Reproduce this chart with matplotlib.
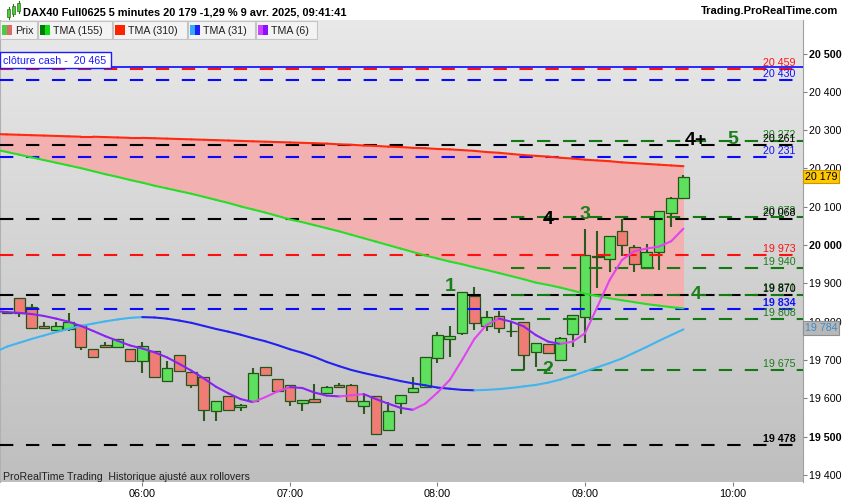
import numpy as np
import matplotlib.pyplot as plt
import matplotlib.transforms as mtransforms
from matplotlib.collections import LineCollection
from matplotlib.colors import LinearSegmentedColormap
from matplotlib.patches import Rectangle

plt.rcParams['font.family'] = ['Liberation Sans', 'DejaVu Sans']
plt.rcParams['lines.scale_dashes'] = False

# --- data -------------------------------------------------------------
# candle index: 0 = 06:00, one step = 5 minutes (first candle 05:05, last 09:40)
candle_idx = list(range(-11, 45))
opens = [19823, 19861, 19839, 19788, 19779, 19780, 19792, 19728, 19739, 19734, 19728,
         19697, 19724, 19644, 19714, 19668, 19655, 19566, 19607, 19577, 19592, 19681,
         19650, 19635, 19588, 19598, 19615, 19635, 19635, 19581, 19606, 19517, 19588,
         19616, 19629, 19704, 19756, 19770, 19866, 19790, 19816, 19776, 19798, 19721,
         19741, 19699, 19767, 19813, 19970, 19963, 20036, 19996, 19941, 19981, 20083, 20122]
highs = [19827, 19862, 19846, 19799, 19799, 19822, 19792, 19728, 19746, 19754, 19728,
         19748, 19724, 19698, 19714, 19668, 19655, 19594, 19607, 19586, 19679, 19681,
         19650, 19635, 19596, 19637, 19632, 19640, 19638, 19609, 19606, 19591, 19609,
         19656, 19708, 19772, 19789, 19877, 19890, 19827, 19829, 19798, 19798, 19744,
         19741, 19761, 19817, 20043, 20036, 20023, 20067, 20000, 20004, 20088, 20126, 20182]
lows = [19820, 19812, 19783, 19783, 19779, 19776, 19727, 19708, 19734, 19734, 19698,
        19667, 19655, 19644, 19670, 19628, 19542, 19542, 19569, 19566, 19592, 19660,
        19618, 19581, 19566, 19590, 19615, 19630, 19592, 19560, 19503, 19517, 19559,
        19616, 19626, 19691, 19709, 19764, 19779, 19776, 19770, 19761, 19674, 19683,
        19718, 19699, 19734, 19744, 19887, 19930, 19971, 19930, 19941, 19935, 20046, 20122]
closes = [19826, 19822, 19783, 19783, 19790, 19800, 19735, 19708, 19734, 19754, 19698,
          19737, 19655, 19679, 19670, 19634, 19569, 19594, 19569, 19583, 19666, 19660,
          19618, 19592, 19596, 19590, 19630, 19630, 19592, 19594, 19507, 19567, 19609,
          19627, 19708, 19765, 19762, 19877, 19796, 19812, 19783, 19777, 19713, 19744,
          19718, 19757, 19817, 19973, 19971, 20023, 19999, 19950, 19983, 20088, 20122, 20179]

# moving averages, one value per 5-minute step from 05:00 to 09:40
ma_idx = list(range(-12, 45))
tma155 = [20250, 20243, 20236, 20229, 20222, 20215, 20208, 20201, 20193, 20185, 20178, 20170,
          20163, 20155, 20148, 20141, 20134, 20126, 20118, 20110, 20101, 20093, 20085, 20076,
          20067, 20060, 20052, 20044, 20036, 20027, 20018, 20009, 20000, 19991, 19982, 19973,
          19965, 19957, 19950, 19942, 19935, 19927, 19919, 19911, 19902, 19896, 19889, 19881,
          19873, 19867, 19861, 19856, 19851, 19846, 19842, 19838, 19835]
tma310 = [20290, 20289, 20288, 20287, 20286, 20285, 20284, 20283, 20283, 20282, 20281, 20280,
          20280, 20279, 20278, 20277, 20276, 20275, 20274, 20273, 20272, 20271, 20270, 20269,
          20268, 20267, 20266, 20265, 20263, 20262, 20260, 20259, 20257, 20256, 20254, 20253,
          20251, 20250, 20248, 20246, 20243, 20241, 20238, 20235, 20233, 20231, 20228, 20226,
          20223, 20221, 20219, 20216, 20214, 20212, 20210, 20208, 20206]
tma31 = [19720, 19735, 19745, 19755, 19764, 19773, 19781, 19789, 19795, 19801, 19806, 19810,
         19812, 19811, 19808, 19803, 19797, 19789, 19781, 19774, 19766, 19757, 19749, 19739,
         19728, 19719, 19708, 19695, 19684, 19674, 19666, 19659, 19652, 19645, 19639, 19634,
         19628, 19625, 19622, 19621, 19622, 19624, 19627, 19631, 19635, 19641, 19649, 19659,
         19670, 19681, 19692, 19704, 19719, 19734, 19750, 19765, 19780]
tma6 = [19828, 19825, 19823, 19820, 19815, 19808, 19800, 19789, 19776, 19762, 19750, 19738,
        19730, 19720, 19707, 19690, 19672, 19652, 19630, 19613, 19598, 19590, 19603, 19618,
        19629, 19627, 19615, 19607, 19605, 19608, 19611, 19598, 19586, 19575, 19570, 19586,
        19615, 19648, 19700, 19755, 19792, 19808, 19800, 19788, 19765, 19748, 19742, 19748,
        19770, 19839, 19909, 19961, 19984, 19991, 19996, 20010, 20043]

cash_close = 20465
black_levels = [20261, 20068, 19870, 19478]
blue_levels = [20430, 20231, 19834]
red_levels = [20459, 19973]
green_levels = [20272, 20073, 19940, 19871, 19808, 19675]
green_from = 30  # 08:30

wave_text = ['1', '2', '3', '4', '4', '4+', '5']
wave_idx = [25, 33, 36, 33, 45, 45, 48]
wave_price = [19892, 19676, 20080, 20067, 19872, 20274, 20277]
wave_color = ['g', 'g', 'g', 'k', 'g', 'k', 'g']

last_price = 20179
tma31_last = 19784
time_ticks = [0, 12, 24, 36, 48]
time_labels = ['06:00', '07:00', '08:00', '09:00', '10:00']
price_ticks = list(range(19400, 20501, 100))

# --- figure -----------------------------------------------------------
W, H = 850, 500
fig = plt.figure(figsize=(8.5, 5), dpi=100)
fig.patch.set_facecolor('white')
ax = fig.add_axes([0, (H - 482) / H, 803 / W, 462 / H])
ax.set_xlim(-11.57, 53.72)
ax.set_ylim(19381.5, 20587.7)

# background gradient
grad = np.linspace(1, 0, 256).reshape(-1, 1)
cmap = LinearSegmentedColormap.from_list('bg', ['#bebebe', '#e9e9e9'])
ax.imshow(grad, cmap=cmap, extent=[0, 1, 0, 1], transform=ax.transAxes,
          aspect='auto', zorder=0)

ax.fill_between(ma_idx, tma310, tma155, color='#f3b0b0', lw=0, zorder=1)

dash = (9.6, 9.1)
ax.axhline(cash_close, color='#1a1aff', lw=1.3, zorder=4.6)
for p in black_levels:
    ax.axhline(p, color='black', lw=1.5, dashes=dash, zorder=4.5)
for p in blue_levels:
    ax.axhline(p, color='#0a0aff', lw=1.5, dashes=dash, zorder=4.5)
for p in red_levels:
    ax.axhline(p, color='#ff1010', lw=1.5, dashes=dash, zorder=4.5)
for p in green_levels:
    ax.plot([green_from - 0.02, 60], [p, p], color='#137a13', lw=1.5, dashes=dash, zorder=4.5)

# candles
o = np.array(opens); c = np.array(closes)
up = c >= o
body_bottom = np.minimum(o, c)
body_h = np.maximum(np.abs(c - o), 0.8)
ax.vlines(candle_idx, lows, highs, color='#2b5a1c', lw=1.5, zorder=3)
ax.bar(candle_idx, body_h, bottom=body_bottom, width=0.87,
       color=np.where(up, '#5ee05e', '#ef7d76'), edgecolor='#245418', linewidth=0.9, zorder=4)


def two_tone(x, y, up_col, down_col, lw=1.5, z=5):
    pts = np.column_stack([x, y])
    segs = np.stack([pts[:-1], pts[1:]], axis=1)
    cols = [up_col if y[i + 1] >= y[i] else down_col for i in range(len(y) - 1)]
    ax.add_collection(LineCollection(segs, colors=cols, linewidths=lw, zorder=z, capstyle='round'))


two_tone(ma_idx, tma310, '#ff2a10', '#ff2a10')
two_tone(ma_idx, tma155, '#0a7a0a', '#28dc28')
two_tone(ma_idx, tma31, '#42b4f0', '#2222ee')
two_tone(ma_idx, tma6, '#e044f0', '#8a22f2')

# level labels on the right edge
blend = mtransforms.blended_transform_factory(ax.transAxes, ax.transData)


def level_label(p, col, bold=False):
    ax.annotate(f'{p // 1000} {p % 1000:03d}', xy=(0.991, p), xycoords=blend,
                xytext=(0, 2.2), textcoords='offset points', ha='right', va='baseline',
                fontsize=7.7, color=col, fontweight='bold' if bold else 'normal', zorder=7)


for p in red_levels:
    level_label(p, '#ff1010')
for p in blue_levels:
    level_label(p, '#1010ff', bold=(p == 19834))
for p in green_levels:
    level_label(p, '#1b7d1b')
for p in black_levels:
    level_label(p, 'black', bold=(p == 19478))

for t, k, p, col in zip(wave_text, wave_idx, wave_price, wave_color):
    ax.text(k, p, t, ha='center', va='center', fontsize=14, fontweight='bold',
            color='#1c7f1c' if col == 'g' else 'black', zorder=8)

# axes
for s in ['top', 'bottom']:
    ax.spines[s].set_visible(False)
ax.spines['right'].set_color('#a0a0a0')
ax.spines['left'].set_color('#b0b0b0')
ax.yaxis.tick_right()
ax.set_yticks(price_ticks)
ax.set_yticklabels([f'{v // 1000} {v % 1000:03d}' for v in price_ticks])
for v, lab in zip(price_ticks, ax.get_yticklabels()):
    if v in (19500, 20000, 20500):
        lab.set_fontweight('bold')
        lab.set_fontsize(8.4)
ax.tick_params(axis='y', length=3, color='#808080', pad=1.5, labelsize=7.7)
ax.set_xticks(time_ticks)
ax.set_xticklabels(time_labels)
ax.tick_params(axis='x', length=3, color='#808080', pad=2, labelsize=7.8)

ax.text(1.002, last_price, f'{last_price // 1000} {last_price % 1000:03d}', transform=blend,
        ha='left', va='center', fontsize=7.7, color='black', zorder=9, clip_on=False,
        bbox=dict(boxstyle='square,pad=0.18', fc='#ffc800', ec='#c89600', lw=0.8))
ax.text(1.002, tma31_last, f'{tma31_last // 1000} {tma31_last % 1000:03d}', transform=blend,
        ha='left', va='center', fontsize=7.7, color='#3c8ccc', zorder=9, clip_on=False,
        bbox=dict(boxstyle='square,pad=0.18', fc='#b8b8b8', ec='#909090', lw=0.8))


# --- header, legend bar and captions (pixel helpers) -------------------
def fx(px):
    return px / W


def fy(py):
    return 1 - py / H


def box(x0, y0, x1, y1, fc, ec='none', lw=0.8):
    fig.patches.append(Rectangle((fx(x0), fy(y1)), fx(x1) - fx(x0), fy(y0) - fy(y1),
                                 transform=fig.transFigure, fc=fc, ec=ec, lw=lw, zorder=10))


# icon
for cx, y0, y1 in [(7, 9, 17), (12, 6, 14), (17, 3, 11)]:
    fig.add_artist(plt.Line2D([fx(cx + 1.5)] * 2, [fy(y1 + 2), fy(y0 - 2)], color='#2f6d1f', lw=0.8))
    box(cx, y0, cx + 3, y1, '#4ccc3c', '#2f6d1f', 0.5)

fig.text(fx(23), fy(12.5), 'DAX40 Full0625 5 minutes 20 179 -1,29 % 9 avr. 2025, 09:41:41',
         fontsize=7.9, fontweight='bold', va='center', ha='left')
fig.text(fx(838), fy(11), 'Trading.ProRealTime.com', fontsize=8.0, fontweight='bold',
         va='center', ha='right')

legend_items = [('Prix', 0, 37, '#4ccc44', '#e06868'),
                ('TMA (155)', 38, 112, '#007a00', '#10dd10'),
                ('TMA (310)', 113, 187, '#ff2200', '#ff2200'),
                ('TMA (31)', 188, 255, '#33aaff', '#2020ff'),
                ('TMA (6)', 256, 317, '#cc44ff', '#8a10ff')]
for name, x0, x1, c1, c2 in legend_items:
    box(x0, 21, x1, 39, '#f3f3f3', '#c4c4c4')
    box(x0 + 2, 25, x0 + 7, 35, c1)
    box(x0 + 7, 25, x0 + 12, 35, c2)
    fig.text(fx(x0 + 15), fy(30.5), name, fontsize=7.7, va='center', ha='left',
             color='#202020', zorder=11)

box(0, 52, 111, 68, 'white', '#1a1aff', 1.0)
fig.text(fx(3), fy(60.5), 'clôture cash -  20 465', fontsize=7.7, color='#1a1aff',
         va='center', ha='left', zorder=11)

fig.text(fx(3), fy(476.5), 'ProRealTime Trading  Historique ajusté aux rollovers',
         fontsize=7.6, color='#202020', va='center', ha='left')

fig.savefig('out.png', dpi=100)
